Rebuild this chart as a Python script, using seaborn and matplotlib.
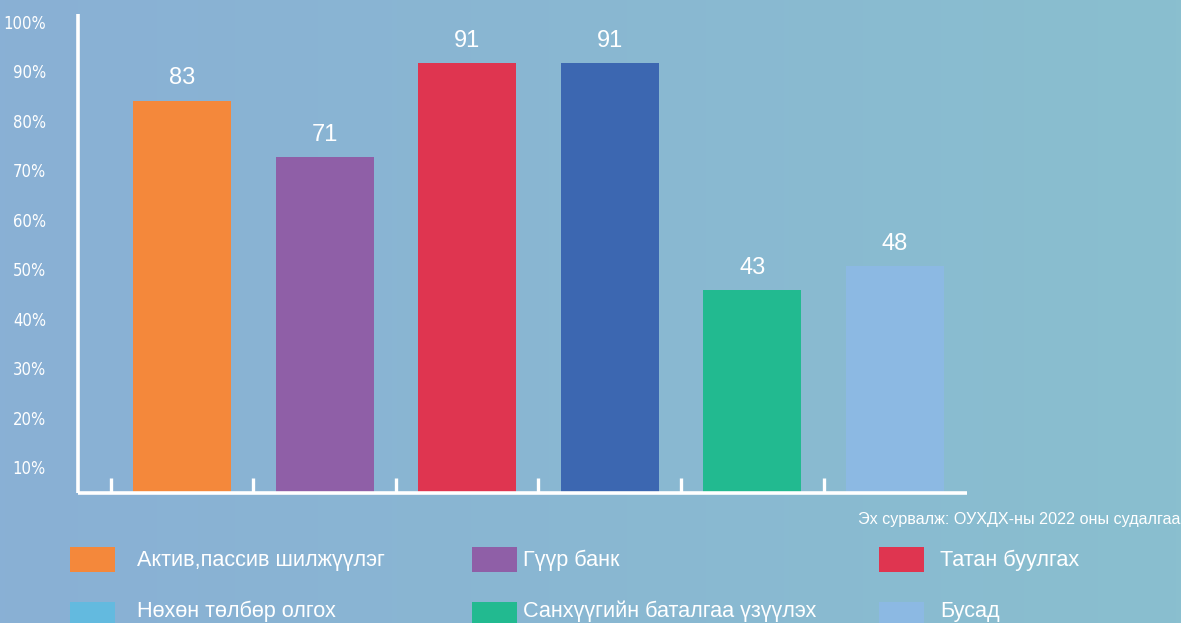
import numpy as np
import matplotlib
matplotlib.use("Agg")
import matplotlib.pyplot as plt
import seaborn as sns
from matplotlib.patches import Rectangle
from matplotlib.colors import to_rgb

# data
categories = ["Актив,пассив шилжүүлэг", "Гүүр банк", "Татан буулгах",
              "Нөхөн төлбөр олгох", "Санхүүгийн баталгаа үзүүлэх", "Бусад"]
values = [83, 71, 91, 91, 43, 48]
bar_colors = ["#F4883B", "#8F5FA7", "#DF3550", "#3C67B1", "#22BA90", "#8CB9E3"]
legend_colors = ["#F4883B", "#8F5FA7", "#DF3550", "#63BADF", "#22BA90", "#8CB9E3"]
ytick_labels = ["10%", "20%", "30%", "40%", "50%", "60%", "70%", "80%", "90%", "100%"]
source = "Эх сурвалж: ОУХДХ-ны 2022 оны судалгаа"

sns.set_theme(style="white")
plt.rcParams["font.family"] = ["Liberation Sans", "DejaVu Sans"]

W, H = 1181, 623
fig = plt.figure(figsize=(W / 100, H / 100), dpi=100)

# background gradient
bg = fig.add_axes([0, 0, 1, 1])
c1, c2 = np.array(to_rgb("#89B0D5")), np.array(to_rgb("#8ABFCF"))
t = np.linspace(0, 1, 256)[None, :, None]
grad = c1 * (1 - t) + c2 * t
bg.imshow(np.repeat(grad, 2, axis=0), aspect="auto", extent=[0, 1, 0, 1])
bg.axis("off")

# main axes in pixel terms
x0, x1, ytop, ybot = 78, 967, 14, 493
ax = fig.add_axes([x0 / W, 1 - ybot / H, (x1 - x0) / W, (ybot - ytop) / H])
ax.patch.set_alpha(0)

sns.barplot(x=categories, y=values, hue=categories, palette=bar_colors,
            legend=False, width=0.687, saturation=1, linewidth=0,
            edgecolor="none", ax=ax)

ax.set_xlim(-0.729, 5.505)
ax.set_ylim(0, 101.3)
ax.set_xticks([])
ax.set_xlabel("")
ax.set_ylabel("")

for sp in ["top", "right"]:
    ax.spines[sp].set_visible(False)
for sp in ["left", "bottom"]:
    ax.spines[sp].set_color("white")
    ax.spines[sp].set_linewidth(2.6)
    ax.spines[sp].set_capstyle("butt")

# small separator ticks along the base
ax.vlines(np.arange(len(values)) - 0.5, 0, 3.2, color="white", lw=2.4)

# y labels sit slightly off the bar scale in the original
ax.set_yticks(np.linspace(5.5, 99.6, 10))
ax.set_yticklabels(ytick_labels, family=["DejaVu Sans"], fontstretch="condensed",
                   fontsize=12, color="white")
ax.tick_params(axis="y", length=0, pad=23)

for cont in ax.containers:
    ax.bar_label(cont, labels=[str(int(b.get_height())) for b in cont],
                 padding=8, color="white", fontsize=17)

# source note
fig.text(1180 / W, 1 - 524 / H, source, ha="right", va="baseline",
         color="white", fontsize=11.6)

# legend drawn by hand to keep the uneven column spacing
sq_x = [70, 472, 879]
tx_x = [137, 523, 940]
rows = [(547, 566), (602, 617)]
for i, (lab, col) in enumerate(zip(categories, legend_colors)):
    r, c = divmod(i, 3)
    top, base = rows[r]
    fig.add_artist(Rectangle((sq_x[c] / W, 1 - (top + 25) / H), 45 / W, 25 / H,
                             transform=fig.transFigure, color=col, lw=0))
    fig.text(tx_x[c] / W, 1 - base / H, lab, ha="left", va="baseline",
             color="white", fontsize=15.6)

fig.savefig("out.png", dpi=100)
